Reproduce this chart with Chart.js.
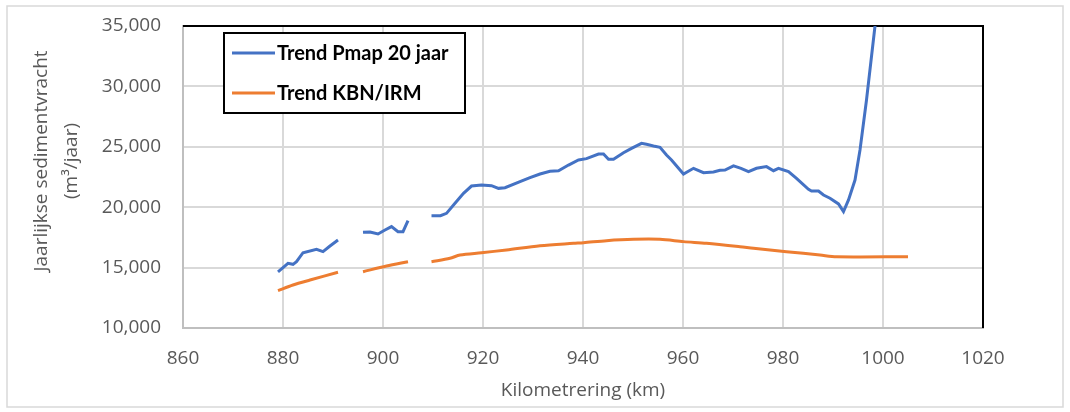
<!DOCTYPE html>
<html>
<head>
<meta charset="utf-8">
<script src="https://cdn.jsdelivr.net/npm/chart.js@4.4.1/dist/chart.umd.min.js"></script>
<style>
  body { margin: 0; background: #fff; }
</style>
</head>
<body>
<canvas id="myChart" width="1070" height="412"></canvas>
<script>
// Trend Pmap 20 jaar (null = onderbreking in de lijn)
const pmapKm = [
  879, 881, 882, 882.7, 884, 886.7, 888, 889.4, 891,
  893.5,
  896, 897.4, 899, 900.4, 901.7, 903, 904, 905,
  907.5,
  909.7, 911.5, 912.7, 914.4, 916.1, 917.7, 919.7, 921.7, 923.1, 924.4,
  927.4, 929.4, 931.4, 933.4, 935.1, 937.1, 939.1, 940.7, 943.1, 944.1,
  945.1, 946.1, 948.1, 949.7, 951.7, 952.7, 954.1, 955.4, 956.7, 957.7,
  960.1, 962.1, 964.1, 966.1, 967.4, 968.4, 970.1, 971.6, 973.1, 974.7,
  976.7, 978.1, 979.1, 981.1, 982.7, 985.1, 985.7, 987.1, 988.1, 989.4,
  991.1, 992.1, 993.1, 994.4, 995.4, 996.7, 998.4, 1000
];
const pmapValues = [
  14650, 15350, 15270, 15490, 16230, 16510, 16320, 16790, 17280,
  null,
  17920, 17950, 17780, 18110, 18390, 17970, 17970, 18880,
  null,
  19300, 19300, 19490, 20320, 21150, 21750, 21840, 21780, 21560, 21610,
  22110, 22440, 22750, 22970, 23020, 23490, 23910, 24020, 24400, 24400,
  23970, 23970, 24510, 24870, 25290, 25210, 25070, 24960, 24320, 23910,
  22750, 23220, 22860, 22910, 23050, 23080, 23420, 23220, 22940, 23220,
  23360, 23020, 23220, 22940, 22390, 21480, 21340, 21340, 21010, 20740,
  20270, 19630, 20600, 22250, 24730, 28870, 35000, 41000
];

// Trend KBN/IRM
const kbnKm = [
  879, 882, 885.4, 891,
  893.5,
  896, 900.7, 905,
  907.5,
  909.7, 913.4, 915.4, 919.7, 924.7, 931.4, 938.1, 940.1, 944.7, 950.1,
  955.4, 960.1, 964.7, 971.4, 974.1, 980.7, 987.4, 990.7, 1005
];
const kbnValues = [
  13090, 13560, 13970, 14610,
  null,
  14660, 15130, 15490,
  null,
  15490, 15770, 16040, 16230, 16460, 16810, 17010, 17060, 17230, 17340,
  17340, 17150, 17010, 16730, 16600, 16320, 16040, 15900, 15900
];

const seriesLabels = ["Trend Pmap 20 jaar", "Trend KBN/IRM"];
const seriesColors = ["#4472C4", "#ED7D31"];
const yTitleLines = ["Jaarlijkse sedimentvracht", "(m³/jaar)"];
const xTitle = "Kilometrering (km)";

const ctx = document.getElementById("myChart").getContext("2d");
const textGrey = "#595959";
const baseFont = '"Open Sans", "Noto Sans", sans-serif';

const toPoints = (xs, ys) => xs.map((x, i) => ({ x: x, y: ys[i] }));

const framePlugin = {
  id: "frame",
  beforeDraw: (chart) => {
    const { ctx, width, height } = chart;
    ctx.save();
    ctx.fillStyle = "#ffffff";
    ctx.fillRect(0, 0, width, height);
    ctx.strokeStyle = "#d9d9d9";
    ctx.lineWidth = 1.5;
    ctx.strokeRect(7, 6, width - 14, height - 11);
    ctx.restore();
  },
  beforeDatasetsDraw: (chart) => {
    const { ctx, chartArea } = chart;
    ctx.save();
    ctx.strokeStyle = "#000000";
    ctx.lineWidth = 2;
    ctx.beginPath();
    ctx.moveTo(chartArea.left, chartArea.top);
    ctx.lineTo(chartArea.right, chartArea.top);
    ctx.lineTo(chartArea.right, chartArea.bottom);
    ctx.stroke();
    ctx.restore();
  },
  afterDraw: (chart) => {
    const { ctx } = chart;
    ctx.save();
    // y-as titel
    ctx.translate(42, 161);
    ctx.rotate(-Math.PI / 2);
    ctx.fillStyle = textGrey;
    ctx.font = "19px " + baseFont;
    ctx.textAlign = "center";
    ctx.textBaseline = "middle";
    yTitleLines.forEach((line, i) => ctx.fillText(line, 0, i * 30));
    ctx.restore();

    // legenda
    ctx.save();
    ctx.fillStyle = "#ffffff";
    ctx.fillRect(224, 33, 241, 80);
    ctx.strokeStyle = "#000000";
    ctx.lineWidth = 2;
    ctx.strokeRect(224, 33, 241, 80);
    ctx.font = 'bold 20px Lato, "Open Sans", sans-serif';
    ctx.textBaseline = "middle";
    chart.data.datasets.forEach((ds, i) => {
      const y = 53 + i * 40;
      ctx.strokeStyle = ds.borderColor;
      ctx.lineWidth = 3;
      ctx.beginPath();
      ctx.moveTo(232, y);
      ctx.lineTo(275, y);
      ctx.stroke();
      ctx.fillStyle = "#000000";
      ctx.fillText(ds.label, 277, y + 1);
    });
    ctx.restore();
  },
};

const myChart = new Chart(ctx, {
  type: "line",
  data: {
    datasets: [
      {
        label: seriesLabels[0],
        data: toPoints(pmapKm, pmapValues),
        borderColor: seriesColors[0],
        borderWidth: 3,
        pointRadius: 0,
        tension: 0,
        spanGaps: false,
        clip: 0,
      },
      {
        label: seriesLabels[1],
        data: toPoints(kbnKm, kbnValues),
        borderColor: seriesColors[1],
        borderWidth: 3,
        pointRadius: 0,
        tension: 0.3,
        spanGaps: false,
        clip: 0,
      },
    ],
  },
  options: {
    responsive: false,
    animation: false,
    layout: { padding: { left: 0, top: 26, right: 87, bottom: 0 } },
    plugins: {
      legend: { display: false },
      tooltip: { enabled: false },
    },
    scales: {
      x: {
        type: "linear",
        min: 860,
        max: 1020,
        ticks: {
          stepSize: 20,
          color: textGrey,
          font: { family: baseFont, size: 19 },
          padding: 19,
          callback: (v) => String(v),
        },
        grid: { color: "#d9d9d9", lineWidth: 2, drawTicks: false },
        border: { color: "#bfbfbf", width: 2 },
        title: {
          display: true,
          text: xTitle,
          color: textGrey,
          font: { family: baseFont, size: 19 },
          padding: { top: 0, bottom: 10 },
        },
        afterFit: (scale) => {
          scale.height = 84;
          scale.paddingLeft = 0;
          scale.paddingRight = 0;
        },
      },
      y: {
        min: 10000,
        max: 35000,
        ticks: {
          stepSize: 5000,
          color: textGrey,
          font: { family: baseFont, size: 19 },
          padding: 22,
          callback: (v) => v.toLocaleString("en-US"),
        },
        grid: { color: "#d9d9d9", lineWidth: 2, drawTicks: false },
        border: { color: "#bfbfbf", width: 2 },
        afterFit: (scale) => {
          scale.width = 183;
          scale.paddingTop = 0;
          scale.paddingBottom = 0;
        },
      },
    },
  },
  plugins: [framePlugin],
});
</script>
</body>
</html>
